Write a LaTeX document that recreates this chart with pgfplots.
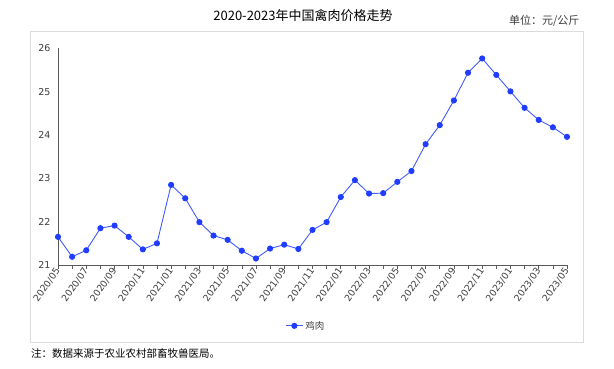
\documentclass[border=0pt]{standalone}
\usepackage{pgfplots}
\pgfplotsset{compat=1.18}
\usepackage{fontspec}
\setmainfont{DejaVu Sans}
\newfontfamily\cjk{Noto Sans CJK SC}
\definecolor{linecol}{RGB}{64,92,255}
\definecolor{markcol}{RGB}{32,60,255}
\definecolor{axcol}{RGB}{90,90,90}
\definecolor{txtcol}{RGB}{60,60,60}
\definecolor{boxcol}{RGB}{220,220,220}
\begin{document}
\begin{tikzpicture}
\begin{axis}[
  scale only axis, width=509pt, height=216.5pt,
  xmin=0, xmax=36, ymin=21, ymax=26,
  axis x line*=bottom, axis y line*=left,
  axis line style={axcol, line width=0.8pt, -},
  xtick={0,...,36},
  xticklabels={2020/05,,2020/07,,2020/09,,2020/11,,2021/01,,2021/03,,2021/05,,2021/07,,2021/09,,2021/11,,2022/01,,2022/03,,2022/05,,2022/07,,2022/09,,2022/11,,2023/01,,2023/03,,2023/05},
  x tick label style={rotate=55, anchor=east, xshift=1.5pt, font=\fontsize{9.3}{10}\selectfont, text=txtcol, inner sep=1.5pt},
  x tick style={axcol, line width=0.6pt},
  tick align=outside,
  major tick length=4pt,
  ytick={21,22,23,24,25,26},
  y tick style={draw=none},
  y tick label style={font=\fontsize{9.5}{11}\selectfont, text=txtcol},
  /pgf/number format/assume math mode=true,
  legend style={at={(0.487,-0.281)}, anchor=center, draw=none, fill=none, font=\cjk\fontsize{9.5}{11}\selectfont, text=txtcol},
  clip=false,
]
\addplot[linecol, line width=0.9pt, mark=*, mark size=2.6pt, mark options={fill=markcol, draw=markcol}] coordinates {
(0,21.65) (1,21.19) (2,21.34) (3,21.85) (4,21.91) (5,21.65) (6,21.36) (7,21.50)
(8,22.85) (9,22.54) (10,21.99) (11,21.68) (12,21.58) (13,21.33) (14,21.15) (15,21.38)
(16,21.47) (17,21.37) (18,21.81) (19,21.99) (20,22.57) (21,22.96) (22,22.65) (23,22.66)
(24,22.92) (25,23.17) (26,23.79) (27,24.23) (28,24.80) (29,25.44) (30,25.77) (31,25.39)
(32,25.01) (33,24.63) (34,24.35) (35,24.18) (36,23.96)
};
\addlegendentry{鸡肉}
\coordinate (O) at (rel axis cs:0,0);
\end{axis}
\pgfresetboundingbox
\begin{scope}[shift={(O)}, xshift=-58pt, yshift=-104pt, x=1pt, y=1pt]
\useasboundingbox (0,0) rectangle (614,369);
\draw[boxcol, line width=0.8pt] (30,27) rectangle (583,338);
\node[font=\cjk\fontsize{13}{15}\selectfont, text=black] at (303,353) {2020-2023年中国禽肉价格走势};
\node[font=\cjk\fontsize{11}{13}\selectfont, text=txtcol, anchor=east] at (583,348) {单位：元/公斤};
\node[font=\cjk\fontsize{10.5}{12}\selectfont, text=black, anchor=west, inner sep=0pt] at (31,16) {注：数据来源于农业农村部畜牧兽医局。};
\end{scope}
\end{tikzpicture}
\end{document}
